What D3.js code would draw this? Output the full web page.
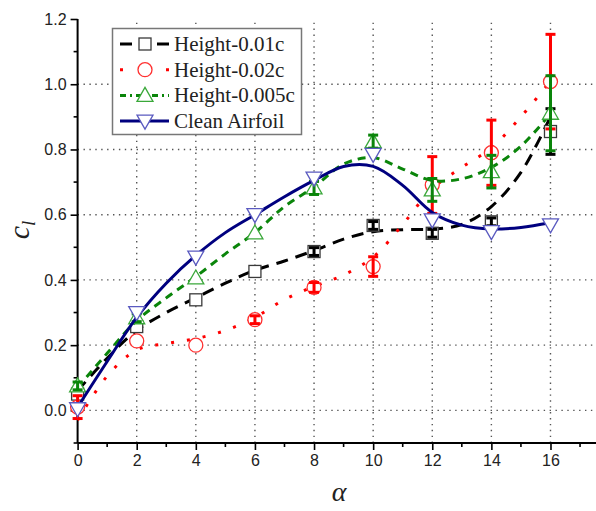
<!DOCTYPE html>
<html>
<head>
<meta charset="utf-8">
<script src="https://cdn.jsdelivr.net/npm/d3@7"></script>
<style>
  html, body { margin: 0; padding: 0; background: #fff; }
  svg { display: block; }
</style>
</head>
<body>
<svg id="chart" width="596" height="511"></svg>
<script>
// Angle of attack at which lift was measured
const alphas = [0, 2, 4, 6, 8, 10, 12, 14, 16];

// Measured lift coefficient per roughness height
const cl001 = [0.05, 0.257, 0.339, 0.426, 0.487, 0.567, 0.543, 0.578, 0.855];
const cl002 = [0.01, 0.213, 0.200, 0.278, 0.377, 0.441, 0.691, 0.790, 1.008];
const cl0005 = [0.075, 0.284, 0.406, 0.544, 0.682, 0.824, 0.676, 0.732, 0.911];
const clClean = [0.005, 0.300, 0.470, 0.600, 0.712, 0.785, 0.584, 0.548, 0.569];

// Half-width of the error bars
const err001 = [0, 0, 0, 0, 0.012, 0.012, 0.012, 0.012, 0.07];
const err002 = [0.035, 0, 0, 0.012, 0.015, 0.03, 0.087, 0.10, 0.145];
const err0005 = [0.012, 0.012, 0, 0, 0.02, 0.02, 0.035, 0.05, 0.115];

// Smoothed fit curves, one value per degree
const fitAlphas = [0, 1, 2, 3, 4, 5, 6, 7, 8, 9, 10, 11, 12, 13, 14, 15, 16];
const fit001 = [0.06, 0.16, 0.245, 0.30, 0.345, 0.39, 0.43, 0.458, 0.49, 0.525, 0.548, 0.554, 0.556, 0.57, 0.625, 0.73, 0.90];
const fit002 = [-0.03, 0.105, 0.185, 0.205, 0.22, 0.245, 0.285, 0.34, 0.38, 0.415, 0.47, 0.57, 0.68, 0.745, 0.805, 0.90, 1.01];
const fit0005 = [0.07, 0.175, 0.275, 0.345, 0.41, 0.48, 0.545, 0.625, 0.685, 0.755, 0.775, 0.74, 0.705, 0.71, 0.745, 0.81, 0.91];
const fitClean = [0.01, 0.15, 0.285, 0.39, 0.475, 0.545, 0.60, 0.655, 0.705, 0.748, 0.748, 0.69, 0.607, 0.568, 0.556, 0.561, 0.575];

// Axis ticks
const xTicks = [0, 2, 4, 6, 8, 10, 12, 14, 16];
const xMinor = [1, 3, 5, 7, 9, 11, 13, 15, 17];
const yTicks = [0.0, 0.2, 0.4, 0.6, 0.8, 1.0, 1.2];
const yMinor = [-0.1, 0.1, 0.3, 0.5, 0.7, 0.9, 1.1];
const yGrid = [0.0, 0.2, 0.4, 0.6, 0.8, 1.0];

const seriesNames = ["Height-0.01c", "Height-0.02c", "Height-0.005c", "Clean Airfoil"];

const series = [
  { name: seriesNames[0], vals: cl001, err: err001, fit: fit001, line: "#000000", mark: "#3a3a3a", bar: "#000000", dash: "12,8", legendDash: "12,25", shape: "square" },
  { name: seriesNames[1], vals: cl002, err: err002, fit: fit002, line: "#ff0000", mark: "#ff3030", bar: "#ff0000", dash: "3,13", legendDash: "3,43", shape: "circle" },
  { name: seriesNames[2], vals: cl0005, err: err0005, fit: fit0005, line: "#0a850a", mark: "#3aa83a", bar: "#0a850a", dash: "8,6", legendDash: "6,4,2,4", shape: "triangle-up" },
  { name: seriesNames[3], vals: clClean, err: null, fit: fitClean, line: "#00007f", mark: "#5a5ac0", bar: "#00007f", dash: null, legendDash: null, shape: "triangle-down" }
];

const svg = d3.select("#chart");

const x = d3.scaleLinear().domain([0, 17.54]).range([77.6, 596]);
const y = d3.scaleLinear().domain([-0.1, 1.2]).range([443, 19]);

// Dotted grid
const grid = svg.append("g");
grid.selectAll("line.v").data(xTicks.filter(d => d > 0)).join("line")
  .attr("x1", d => x(d)).attr("x2", d => x(d))
  .attr("y1", y(-0.1)).attr("y2", 21)
  .attr("stroke", "#555").attr("stroke-width", 1.4).attr("stroke-dasharray", "1.4,4.5");
grid.selectAll("line.h").data(yGrid).join("line")
  .attr("x1", x(0)).attr("x2", 596)
  .attr("y1", d => y(d)).attr("y2", d => y(d))
  .attr("stroke", "#555").attr("stroke-width", 1.4).attr("stroke-dasharray", "1.4,4.5");

// Axes
const xAxis = d3.axisBottom(x).tickValues(xTicks).tickSize(7).tickPadding(5).tickFormat(d3.format("d"));
const gx = svg.append("g").attr("transform", `translate(0,${y(-0.1)})`).call(xAxis);
gx.select(".domain").attr("d", `M${x(0)},0H596`).attr("stroke-width", 2);
gx.selectAll(".tick line").attr("stroke-width", 1.6);
gx.selectAll(".tick text").attr("font-family", "Liberation Sans, Arial, sans-serif").attr("font-size", 16).attr("fill", "#222");
gx.append("g").selectAll("line").data(xMinor).join("line")
  .attr("x1", d => x(d)).attr("x2", d => x(d)).attr("y1", 0).attr("y2", 4)
  .attr("stroke", "#000").attr("stroke-width", 1.6);

const yAxis = d3.axisLeft(y).tickValues(yTicks).tickSize(7).tickPadding(4).tickFormat(d3.format(".1f"));
const gy = svg.append("g").attr("transform", `translate(${x(0)},0)`).call(yAxis);
gy.select(".domain").attr("d", `M0,${y(-0.1)}V${y(1.2)}`).attr("stroke-width", 2);
gy.selectAll(".tick line").attr("stroke-width", 1.6);
gy.selectAll(".tick text").attr("font-family", "Liberation Sans, Arial, sans-serif").attr("font-size", 16).attr("fill", "#222");
gy.append("g").selectAll("line").data(yMinor).join("line")
  .attr("x1", 0).attr("x2", -4).attr("y1", d => y(d)).attr("y2", d => y(d))
  .attr("stroke", "#000").attr("stroke-width", 1.6);

// Axis titles
svg.append("text")
  .attr("transform", "translate(29,230) rotate(-90)")
  .attr("text-anchor", "middle")
  .attr("font-family", "Liberation Serif, Times New Roman, serif")
  .attr("font-style", "italic").attr("font-size", 30).attr("fill", "#222")
  .html('c<tspan font-size="19" dy="6">l</tspan>');
svg.append("text")
  .attr("x", 339).attr("y", 501)
  .attr("text-anchor", "middle")
  .attr("font-family", "Liberation Serif, Times New Roman, serif")
  .attr("font-style", "italic").attr("font-size", 28).attr("fill", "#222")
  .text("α");

// Marker drawing
function drawMarker(g, shape, cx, cy, color) {
  if (shape === "square") {
    g.append("rect").attr("x", cx - 6).attr("y", cy - 6).attr("width", 12).attr("height", 12)
      .attr("fill", "#fff").attr("stroke", color).attr("stroke-width", 1.3);
  } else if (shape === "circle") {
    g.append("circle").attr("cx", cx).attr("cy", cy).attr("r", 7)
      .attr("fill", "#fff").attr("stroke", color).attr("stroke-width", 1.3);
  } else if (shape === "triangle-up") {
    g.append("path").attr("d", `M${cx},${cy - 8}L${cx + 8},${cy + 6}L${cx - 8},${cy + 6}Z`)
      .attr("fill", "#fff").attr("stroke", color).attr("stroke-width", 1.3);
  } else {
    g.append("path").attr("d", `M${cx},${cy + 8}L${cx + 8},${cy - 6}L${cx - 8},${cy - 6}Z`)
      .attr("fill", "#fff").attr("stroke", color).attr("stroke-width", 1.3);
  }
}

const line = d3.line().x(d => x(d[0])).y(d => y(d[1])).curve(d3.curveCatmullRom.alpha(0.5));

series.forEach(s => {
  const g = svg.append("g");
  const p = g.append("path")
    .datum(fitAlphas.map((a, i) => [a, s.fit[i]]))
    .attr("d", line)
    .attr("fill", "none").attr("stroke", s.line).attr("stroke-width", 3);
  if (s.dash) p.attr("stroke-dasharray", s.dash);

  alphas.forEach((a, i) => drawMarker(g, s.shape, x(a), y(s.vals[i]), s.mark));

  if (s.err) {
    alphas.forEach((a, i) => {
      const e = s.err[i];
      if (!e) return;
      const cx = x(a), y0 = y(s.vals[i] - e), y1 = y(s.vals[i] + e);
      g.append("line").attr("x1", cx).attr("x2", cx).attr("y1", y0).attr("y2", y1)
        .attr("stroke", s.bar).attr("stroke-width", 3);
      [y0, y1].forEach(yy => g.append("line")
        .attr("x1", cx - 5).attr("x2", cx + 5).attr("y1", yy).attr("y2", yy)
        .attr("stroke", s.bar).attr("stroke-width", 3));
    });
  }
});

// Legend
const lg = svg.append("g");
lg.append("rect").attr("x", 112.5).attr("y", 28.5).attr("width", 189).attr("height", 106)
  .attr("fill", "#fff").attr("stroke", "#777").attr("stroke-width", 1.5);
series.forEach((s, i) => {
  const yy = 44 + i * 25.7;
  const l = lg.append("line").attr("x1", 120).attr("x2", 169).attr("y1", yy).attr("y2", yy)
    .attr("stroke", s.line).attr("stroke-width", 3);
  if (s.legendDash) l.attr("stroke-dasharray", s.legendDash);
  drawMarker(lg, s.shape, 145, yy, s.mark);
  lg.append("text").attr("x", 174).attr("y", yy + 7)
    .attr("font-family", "Liberation Serif, Times New Roman, serif")
    .attr("font-size", 21).attr("fill", "#222")
    .text(s.name);
});
</script>
</body>
</html>
